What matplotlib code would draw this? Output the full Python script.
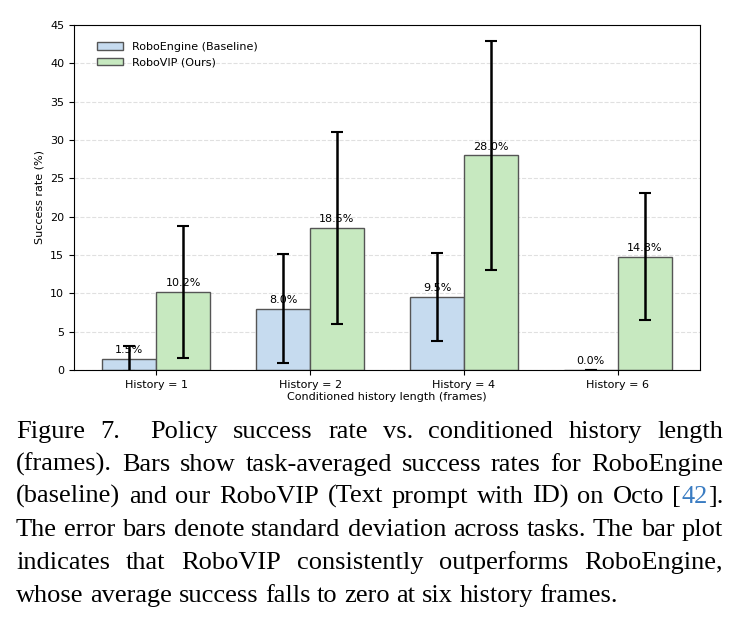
import numpy as np
import matplotlib.pyplot as plt

groups = ['History = 1', 'History = 2', 'History = 4', 'History = 6']
baseline = [1.5, 8.0, 9.5, 0.0]
baseline_std = [1.6, 7.1, 5.7, 0.0]
ours = [10.2, 18.5, 28.0, 14.8]
ours_std = [8.6, 12.5, 14.9, 8.3]

caption_lines = [
    [('Figure', 'k'), ('7.', 'k'), ('', 'k'), ('Policy', 'k'), ('success', 'k'), ('rate', 'k'), ('vs.', 'k'),
     ('conditioned', 'k'), ('history', 'k'), ('length', 'k')],
    [('(frames).', 'k'), ('Bars', 'k'), ('show', 'k'), ('task-averaged', 'k'), ('success', 'k'),
     ('rates', 'k'), ('for', 'k'), ('RoboEngine', 'k')],
    [('(baseline)', 'k'), ('and', 'k'), ('our', 'k'), ('RoboVIP', 'k'), ('(Text', 'k'), ('prompt', 'k'),
     ('with', 'k'), ('ID)', 'k'), ('on', 'k'), ('Octo', 'k'), ([('[', 'k'), ('42', '#3a7cc2'), ('].', 'k')], None)],
    [('The', 'k'), ('error', 'k'), ('bars', 'k'), ('denote', 'k'), ('standard', 'k'), ('deviation', 'k'),
     ('across', 'k'), ('tasks.', 'k'), ('The', 'k'), ('bar', 'k'), ('plot', 'k')],
    [('indicates', 'k'), ('that', 'k'), ('RoboVIP', 'k'), ('consistently', 'k'), ('outperforms', 'k'),
     ('RoboEngine,', 'k')],
    [('whose', 'k'), ('average', 'k'), ('success', 'k'), ('falls', 'k'), ('to', 'k'), ('zero', 'k'),
     ('at', 'k'), ('six', 'k'), ('history', 'k'), ('frames.', 'k')],
]

W, H = 740, 625
fig = plt.figure(figsize=(W / 100, H / 100), dpi=100)
ax = fig.add_axes([74 / W, 1 - 370 / H, 626 / W, 345 / H])

x = np.arange(len(groups))
w = 0.35
ax.bar(x - w / 2, baseline, w, color='#c6dbef', edgecolor='#555555', linewidth=1,
       label='RoboEngine (Baseline)', zorder=2)
ax.bar(x + w / 2, ours, w, color='#c7e9c0', edgecolor='#555555', linewidth=1,
       label='RoboVIP (Ours)', zorder=2)
ax.errorbar(x - w / 2, baseline, yerr=baseline_std, fmt='none', ecolor='black',
            elinewidth=1.8, capsize=4, capthick=1.5, zorder=3)
ax.errorbar(x + w / 2, ours, yerr=ours_std, fmt='none', ecolor='black',
            elinewidth=1.8, capsize=4, capthick=1.5, zorder=3)

for xs, vals in [(x - w / 2, baseline), (x + w / 2, ours)]:
    for xi, v in zip(xs, vals):
        ax.text(xi, v + 0.5, '%.1f%%' % v, ha='center', va='bottom', fontsize=8, zorder=4)

ax.set_ylim(0, 45)
ax.set_xticks(x)
ax.set_xticklabels(groups, fontsize=8)
ax.tick_params(axis='y', labelsize=8)
ax.set_ylabel('Success rate (%)', fontsize=8)
ax.set_xlabel('Conditioned history length (frames)', fontsize=8, labelpad=2)
ax.yaxis.grid(True, linestyle='--', color='#cccccc', alpha=0.6, linewidth=0.8, zorder=0)
ax.set_axisbelow(True)
ax.legend(loc='upper left', fontsize=8, frameon=False, handlelength=2.4,
          bbox_to_anchor=(0.02, 0.98))

# caption, justified by hand
fs = 19
left, right = 16, 723
baselines = [438, 471, 503, 536, 569, 602]
renderer = fig.canvas.get_renderer()


def make_word(word, xpos, ypos):
    segs = word[0] if isinstance(word[0], list) else [word]
    arts = []
    cx = xpos
    for s, c in segs:
        t = fig.text(cx / W, 1 - ypos / H, s, fontsize=fs, family='Liberation Serif',
                     color=c, ha='left', va='baseline')
        arts.append(t)
        cx += t.get_window_extent(renderer).width if s else 0
    return arts, cx - xpos


for i, (line, yb) in enumerate(zip(caption_lines, baselines)):
    items = []
    total = 0
    for word in line:
        arts, wd = make_word(word, 0, yb)
        items.append((arts, wd))
        total += wd
    n_gaps = len(items) - 1
    if i == len(caption_lines) - 1:
        gap = fs * 0.25 * 100 / 72
    else:
        gap = (right - left - total) / n_gaps
    cx = left
    for arts, wd in items:
        px = cx
        for a in arts:
            a.set_x(px / W)
            px += a.get_window_extent(renderer).width if a.get_text() else 0
        cx += wd + gap

fig.savefig('out.png', dpi=100)
